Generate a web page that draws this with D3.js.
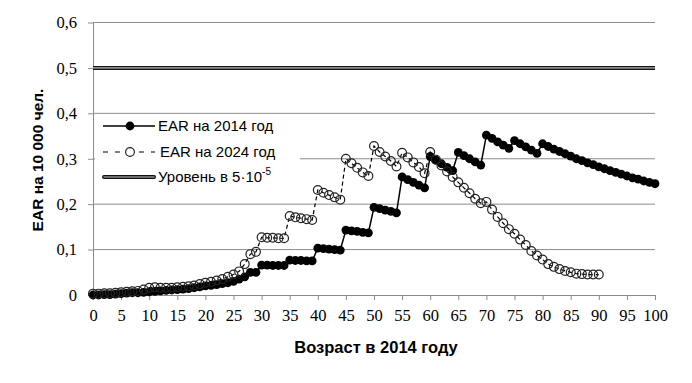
<!DOCTYPE html>
<html>
<head>
<meta charset="utf-8">
<script src="https://cdn.jsdelivr.net/npm/d3@7"></script>
<style>
  body { margin: 0; background: #fff; }
  svg { display: block; }
</style>
</head>
<body>
<script>
// EAR values per 10 000 people
var ages = d3.range(0, 101);

var ear2014 = [
  0.000, 0.000, 0.001, 0.001, 0.002, 0.003, 0.004, 0.005, 0.005, 0.006,
  0.007, 0.008, 0.009, 0.010, 0.011, 0.012, 0.013, 0.014, 0.016, 0.018,
  0.020, 0.021, 0.023, 0.025, 0.027, 0.030, 0.035, 0.040, 0.050, 0.050,
  0.066, 0.066, 0.065, 0.065, 0.065, 0.077, 0.076, 0.076, 0.075, 0.075,
  0.103, 0.102, 0.101, 0.100, 0.099, 0.143, 0.141, 0.140, 0.138, 0.137,
  0.193, 0.190, 0.187, 0.184, 0.181, 0.260, 0.254, 0.248, 0.242, 0.236,
  0.305, 0.297, 0.289, 0.281, 0.274, 0.314, 0.307, 0.300, 0.293, 0.286,
  0.352, 0.345, 0.337, 0.330, 0.323, 0.340, 0.333, 0.326, 0.319, 0.312,
  0.333, 0.327, 0.321, 0.316, 0.311, 0.306, 0.300, 0.296, 0.291, 0.287,
  0.282, 0.278, 0.274, 0.270, 0.266, 0.262, 0.258, 0.255, 0.251, 0.248,
  0.245
];

var ear2024 = [
  0.003, 0.003, 0.004, 0.004, 0.005, 0.006, 0.007, 0.008, 0.009, 0.012,
  0.016, 0.017, 0.016, 0.016, 0.016, 0.017, 0.018, 0.019, 0.021, 0.024,
  0.027, 0.029, 0.032, 0.035, 0.040, 0.045, 0.052, 0.068, 0.090, 0.095,
  0.127, 0.126, 0.126, 0.125, 0.125, 0.174, 0.171, 0.169, 0.167, 0.165,
  0.231, 0.225, 0.220, 0.215, 0.210, 0.300, 0.290, 0.280, 0.270, 0.262,
  0.328, 0.315, 0.305, 0.295, 0.283, 0.313, 0.303, 0.292, 0.282, 0.268,
  0.315, 0.298, 0.285, 0.272, 0.260, 0.248, 0.236, 0.224, 0.212, 0.202,
  0.205, 0.188, 0.172, 0.158, 0.145, 0.135, 0.122, 0.110, 0.097, 0.087,
  0.078, 0.068, 0.062, 0.057, 0.053, 0.050, 0.047, 0.046, 0.045, 0.045,
  0.045
];

var levelValue = 0.5;
var yTicks = [0, 0.1, 0.2, 0.3, 0.4, 0.5, 0.6];
var xTicks = d3.range(0, 101, 5);

var legendLabels = ["EAR на 2014 год", "EAR на 2024 год", "Уровень в 5·10"];

var width = 692, height = 383;
var margin = { left: 93, right: 37, top: 22.5, bottom: 88 };

var svg = d3.select("body").append("svg")
    .attr("width", width)
    .attr("height", height);

var x = d3.scaleLinear().domain([0, 100]).range([margin.left, width - margin.right]);
var y = d3.scaleLinear().domain([0, 0.6]).range([height - margin.bottom, margin.top]);

var tickFont = "16.5px 'Liberation Serif'";

// gridlines
svg.append("g")
  .selectAll("line")
  .data(yTicks.slice(1))
  .enter().append("line")
    .attr("x1", x(0)).attr("x2", x(100))
    .attr("y1", d => y(d)).attr("y2", d => y(d))
    .attr("stroke", "#8c8c8c")
    .attr("stroke-width", 1);

// y axis
var yAxis = svg.append("g")
    .attr("transform", `translate(${x(0)},0)`)
    .call(d3.axisLeft(y).tickValues(yTicks).tickSize(5).tickSizeOuter(0)
      .tickFormat(d => d === 0 ? "0" : d3.format(".1f")(d).replace(".", ",")));
yAxis.select(".domain").attr("stroke", "#8c8c8c");
yAxis.selectAll(".tick line").attr("stroke", "#8c8c8c");
yAxis.selectAll(".tick text").attr("x", -16).style("font", tickFont).attr("fill", "#000");

// x axis
var xAxis = svg.append("g")
    .attr("transform", `translate(0,${y(0)})`)
    .call(d3.axisBottom(x).tickValues(xTicks).tickSize(5).tickSizeOuter(0));
xAxis.select(".domain").attr("stroke", "#8c8c8c");
xAxis.selectAll(".tick line").attr("stroke", "#8c8c8c");
xAxis.selectAll(".tick text").attr("y", 14).style("font", tickFont).attr("fill", "#000");

// legend background (hides gridline behind it)
svg.append("rect")
    .attr("x", x(0) + 2).attr("y", 116)
    .attr("width", 205).attr("height", 73)
    .attr("fill", "#fff");

// level line 5e-5 (double line)
svg.append("line")
    .attr("x1", x(0)).attr("x2", x(100))
    .attr("y1", y(levelValue)).attr("y2", y(levelValue))
    .attr("stroke", "#111").attr("stroke-width", 4);
svg.append("line")
    .attr("x1", x(0)).attr("x2", x(100))
    .attr("y1", y(levelValue)).attr("y2", y(levelValue))
    .attr("stroke", "#8a8a8a").attr("stroke-width", 1.6);

var line = d3.line().x((d, i) => x(ages[i])).y(d => y(d));

// series 2014
svg.append("path")
    .datum(ear2014)
    .attr("d", line)
    .attr("fill", "none")
    .attr("stroke", "#000")
    .attr("stroke-width", 1.5);
svg.append("g")
  .selectAll("circle")
  .data(ear2014)
  .enter().append("circle")
    .attr("cx", (d, i) => x(ages[i]))
    .attr("cy", d => y(d))
    .attr("r", 4.4)
    .attr("fill", "#000");

// series 2024
svg.append("path")
    .datum(ear2024)
    .attr("d", line)
    .attr("fill", "none")
    .attr("stroke", "#000")
    .attr("stroke-width", 1.2)
    .attr("stroke-dasharray", "4,3");
svg.append("g")
  .selectAll("circle")
  .data(ear2024)
  .enter().append("circle")
    .attr("cx", (d, i) => x(ages[i]))
    .attr("cy", d => y(d))
    .attr("r", 4.4)
    .attr("fill", "none")
    .attr("stroke", "#222")
    .attr("stroke-width", 1.2);

// legend
var legend = svg.append("g").style("font", "15px 'Liberation Sans'");
var ly = [126, 152, 177];

legend.append("line")
    .attr("x1", 103).attr("x2", 155).attr("y1", ly[0]).attr("y2", ly[0])
    .attr("stroke", "#000").attr("stroke-width", 1.5);
legend.append("circle").attr("cx", 130).attr("cy", ly[0]).attr("r", 4.4).attr("fill", "#000");

legend.append("line")
    .attr("x1", 103).attr("x2", 155).attr("y1", ly[1]).attr("y2", ly[1])
    .attr("stroke", "#000").attr("stroke-width", 1.2).attr("stroke-dasharray", "5,7");
legend.append("circle").attr("cx", 130).attr("cy", ly[1]).attr("r", 4.4)
    .attr("fill", "#fff").attr("stroke", "#222").attr("stroke-width", 1.2);

legend.append("line")
    .attr("x1", 104).attr("x2", 154).attr("y1", ly[2]).attr("y2", ly[2])
    .attr("stroke", "#111").attr("stroke-width", 4).attr("stroke-linecap", "round");
legend.append("line")
    .attr("x1", 104).attr("x2", 154).attr("y1", ly[2]).attr("y2", ly[2])
    .attr("stroke", "#8a8a8a").attr("stroke-width", 1.6).attr("stroke-linecap", "round");

legend.append("text").attr("x", 158).attr("y", ly[0] + 5).text(legendLabels[0]);
legend.append("text").attr("x", 160).attr("y", ly[1] + 5).text(legendLabels[1]);
var t3 = legend.append("text").attr("x", 158).attr("y", ly[2] + 5).text(legendLabels[2]);
t3.append("tspan").attr("dy", -7).style("font-size", "10px").text("-5");

// axis titles
svg.append("text")
    .attr("x", (x(0) + x(100)) / 2 + 2)
    .attr("y", 353)
    .attr("text-anchor", "middle")
    .style("font", "bold 16.5px 'Liberation Sans'")
    .text("Возраст в 2014 году");

svg.append("text")
    .attr("transform", `translate(43,160) rotate(-90)`)
    .attr("text-anchor", "middle")
    .style("font", "bold 15.5px 'Liberation Sans'")
    .text("EAR на 10 000 чел.");
</script>
</body>
</html>
